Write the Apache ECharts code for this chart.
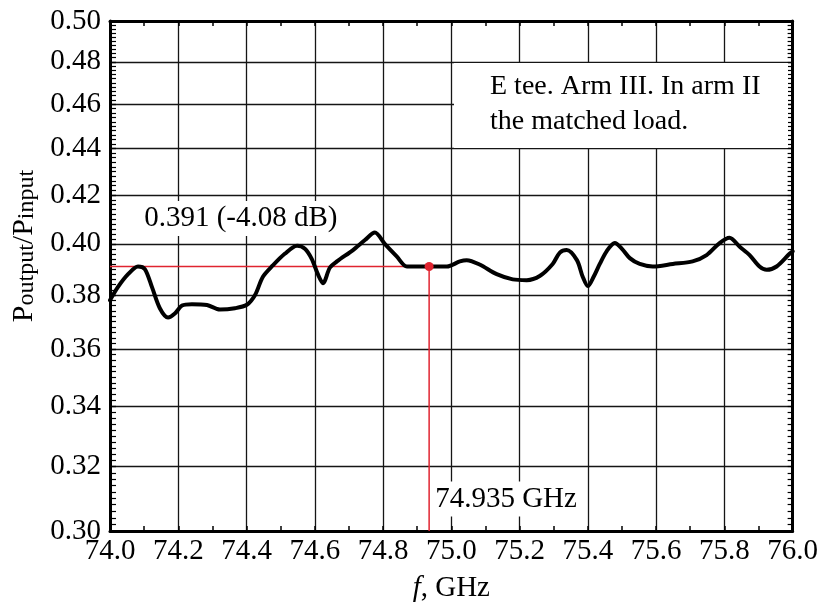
<!DOCTYPE html>
<html>
<head>
<meta charset="utf-8">
<script src="https://cdn.jsdelivr.net/npm/echarts@6/dist/echarts.min.js"></script>
<style>
  html, body { margin: 0; padding: 0; background: #ffffff; }
  #chart { width: 821px; height: 608px; }
</style>
</head>
<body>
<div id="chart"></div>
<script>
// Measured transmission of the E tee (arm III), matched load in arm II.
const freqGHz = [
  74.000, 74.023, 74.053, 74.082, 74.102, 74.123, 74.146, 74.170, 74.190, 74.211,
  74.240, 74.284, 74.322, 74.366, 74.401, 74.425, 74.448, 74.477, 74.512, 74.548,
  74.571, 74.591, 74.609, 74.624, 74.644, 74.665, 74.712, 74.747, 74.776, 74.805,
  74.840, 74.870, 74.937, 74.987, 75.025, 75.045, 75.083, 75.133, 75.180, 75.221,
  75.259, 75.297, 75.318, 75.338, 75.368, 75.385, 75.400, 75.417, 75.435, 75.455,
  75.479, 75.500, 75.523, 75.552, 75.590, 75.649, 75.707, 75.748, 75.786, 75.815,
  75.845, 75.874, 75.903, 75.924, 75.953, 75.991, 76.000
];
const ratio = [
  0.3780, 0.3830, 0.3880, 0.3910, 0.3900, 0.3830, 0.3750, 0.3715, 0.3730, 0.3760,
  0.3765, 0.3762, 0.3745, 0.3750, 0.3763, 0.3800, 0.3870, 0.3914, 0.3960, 0.3992,
  0.3980, 0.3940, 0.3880, 0.3845, 0.3905, 0.3930, 0.3975, 0.4015, 0.4045, 0.4000,
  0.3950, 0.3910, 0.3910, 0.3910, 0.3930, 0.3935, 0.3918, 0.3880, 0.3860, 0.3857,
  0.3873, 0.3920, 0.3965, 0.3975, 0.3935, 0.3870, 0.3834, 0.3870, 0.3920, 0.3970,
  0.4003, 0.3980, 0.3943, 0.3920, 0.3910, 0.3920, 0.3930, 0.3955, 0.4003, 0.4024,
  0.3988, 0.3955, 0.3910, 0.3897, 0.3910, 0.3960, 0.3970
];
// Log-scaled ordinate: labelled ticks and the fine tick step
const ratioTicks = [0.30, 0.32, 0.34, 0.36, 0.38, 0.40, 0.42, 0.44, 0.46, 0.48, 0.50];
const ratioMinorStep = 0.002;
const freqMin = 74.0, freqMax = 76.0, freqStep = 0.2;
// Highlighted reading
const markerFreq = 74.935;
const markerRatio = 0.391;
const noteLines = ['E tee. Arm III. In arm II', 'the matched load.'];

const FONT = '"Liberation Serif", "Times New Roman", serif';
const INK = '#000000';
const RED = '#e02430';

const lg = v => Math.log10(v);
const yMin = lg(ratioTicks[0]);
const yMax = lg(ratioTicks[ratioTicks.length - 1]);
const majorY = ratioTicks.map(lg);
const minorY = [];
for (let k = 0; ; k++) {
  const v = +(ratioTicks[0] + ratioMinorStep * k).toFixed(3);
  if (v > ratioTicks[ratioTicks.length - 1]) break;
  minorY.push(lg(v));
}

const curve = freqGHz.map((f, i) => [f, lg(ratio[i])]);

const chart = echarts.init(document.getElementById('chart'), null, { renderer: 'canvas' });

const frameLine = { show: true, onZero: false, lineStyle: { color: INK, width: 3 } };
const gridStyle = { show: true, lineStyle: { color: '#151515', width: 1.3 } };
const pointLabel = {
  show: true, position: 'inside', align: 'left', verticalAlign: 'middle',
  color: INK, opacity: 1, fontFamily: FONT, fontSize: 29,
  backgroundColor: '#ffffff', padding: [3, 4]
};

chart.setOption({
  animation: false,
  backgroundColor: '#ffffff',
  grid: { left: 110, right: 28, top: 21, bottom: 76, containLabel: false },
  xAxis: [
    {
      type: 'value', position: 'bottom', min: freqMin, max: freqMax, interval: freqStep,
      axisLine: frameLine,
      axisTick: { show: true, inside: true, length: 5, lineStyle: { color: INK, width: 1.5 } },
      minorTick: { show: true, splitNumber: 2, length: 5, lineStyle: { color: INK, width: 1.5 } },
      splitLine: gridStyle,
      axisLabel: {
        margin: 6, color: INK, fontFamily: FONT, fontSize: 29,
        formatter: v => v.toFixed(1)
      },
      name: '{i|f}{r|, GHz}', nameLocation: 'middle', nameGap: 43,
      nameTextStyle: {
        color: INK, fontFamily: FONT, fontSize: 29,
        rich: {
          i: { fontStyle: 'italic', fontFamily: FONT, fontSize: 29, color: INK },
          r: { fontFamily: FONT, fontSize: 29, color: INK }
        }
      }
    },
    {
      type: 'value', position: 'top', min: freqMin, max: freqMax, interval: freqStep,
      axisLine: frameLine,
      axisTick: { show: true, inside: true, length: 5, lineStyle: { color: INK, width: 1.5 } },
      minorTick: { show: true, splitNumber: 2, length: 5, lineStyle: { color: INK, width: 1.5 } },
      splitLine: { show: false },
      axisLabel: { show: false }
    }
  ],
  yAxis: [
    {
      type: 'value', position: 'left', min: yMin, max: yMax,
      axisLine: frameLine,
      axisTick: { show: true, inside: true, length: 6, customValues: majorY, lineStyle: { color: INK, width: 1.2 } },
      splitLine: gridStyle,
      axisLabel: {
        margin: 9, color: INK, fontFamily: FONT, fontSize: 29,
        customValues: majorY,
        formatter: v => Math.pow(10, v).toFixed(2)
      }
    },
    {
      type: 'value', position: 'left', min: yMin, max: yMax,
      axisLine: { show: false },
      axisTick: { show: true, inside: true, length: 6, customValues: minorY, lineStyle: { color: INK, width: 1.2 } },
      splitLine: { show: false },
      axisLabel: { show: false }
    },
    {
      type: 'value', position: 'right', min: yMin, max: yMax,
      axisLine: frameLine,
      axisTick: { show: true, inside: true, length: 5, customValues: minorY, lineStyle: { color: INK, width: 1.2 } },
      splitLine: { show: false },
      axisLabel: { show: false }
    }
  ],
  series: [
    {
      name: 'guide',
      type: 'line',
      xAxisIndex: 0, yAxisIndex: 0,
      data: [[freqMin, lg(markerRatio)], [markerFreq, lg(markerRatio)], [markerFreq, yMin]],
      showSymbol: false, silent: true,
      lineStyle: { color: RED, width: 1.5 },
      z: 2
    },
    {
      name: 'P_output/P_input',
      type: 'line',
      xAxisIndex: 0, yAxisIndex: 0,
      data: curve,
      smooth: 0.3,
      showSymbol: false,
      lineStyle: { color: '#000000', width: 4, cap: 'round', join: 'round' },
      z: 3
    },
    {
      name: 'reading',
      type: 'scatter',
      xAxisIndex: 0, yAxisIndex: 0,
      z: 5,
      itemStyle: { color: RED, opacity: 1 },
      data: [
        {
          value: [markerFreq, lg(markerRatio)],
          symbolSize: 9,
          label: Object.assign({}, pointLabel, {
            offset: [-289, -48],
            formatter: p => {
              const v = Math.pow(10, p.value[1]);
              return v.toFixed(3) + ' (' + (10 * Math.log10(v)).toFixed(2) + ' dB)';
            }
          })
        },
        {
          value: [markerFreq, yMin],
          symbolSize: 0,
          label: Object.assign({}, pointLabel, {
            offset: [2, -32],
            formatter: p => p.value[0].toFixed(3) + ' GHz'
          })
        }
      ]
    }
  ],
  graphic: [
    {
      type: 'rect', z: 10, silent: true,
      shape: { x: 454, y: 63, width: 334, height: 85 },
      style: { fill: '#ffffff' }
    },
    {
      type: 'text', z: 11, silent: true,
      x: 490, y: 69.5,
      style: {
        text: noteLines.join('\n'),
        font: '28px ' + FONT,
        lineHeight: 35,
        fill: INK,
        align: 'left', verticalAlign: 'top'
      }
    },
    {
      type: 'text', z: 11, silent: true,
      x: 24, y: 246, rotation: Math.PI / 2,
      style: {
        text: '{p|P}{s|output}{p|/P}{s|input}',
        fill: INK,
        align: 'center', verticalAlign: 'middle',
        rich: {
          p: { fontFamily: FONT, fontSize: 30, lineHeight: 30, verticalAlign: 'bottom', fill: INK },
          s: { fontFamily: FONT, fontSize: 24, lineHeight: 16, verticalAlign: 'bottom', fill: INK }
        }
      }
    }
  ]
});
</script>
</body>
</html>
